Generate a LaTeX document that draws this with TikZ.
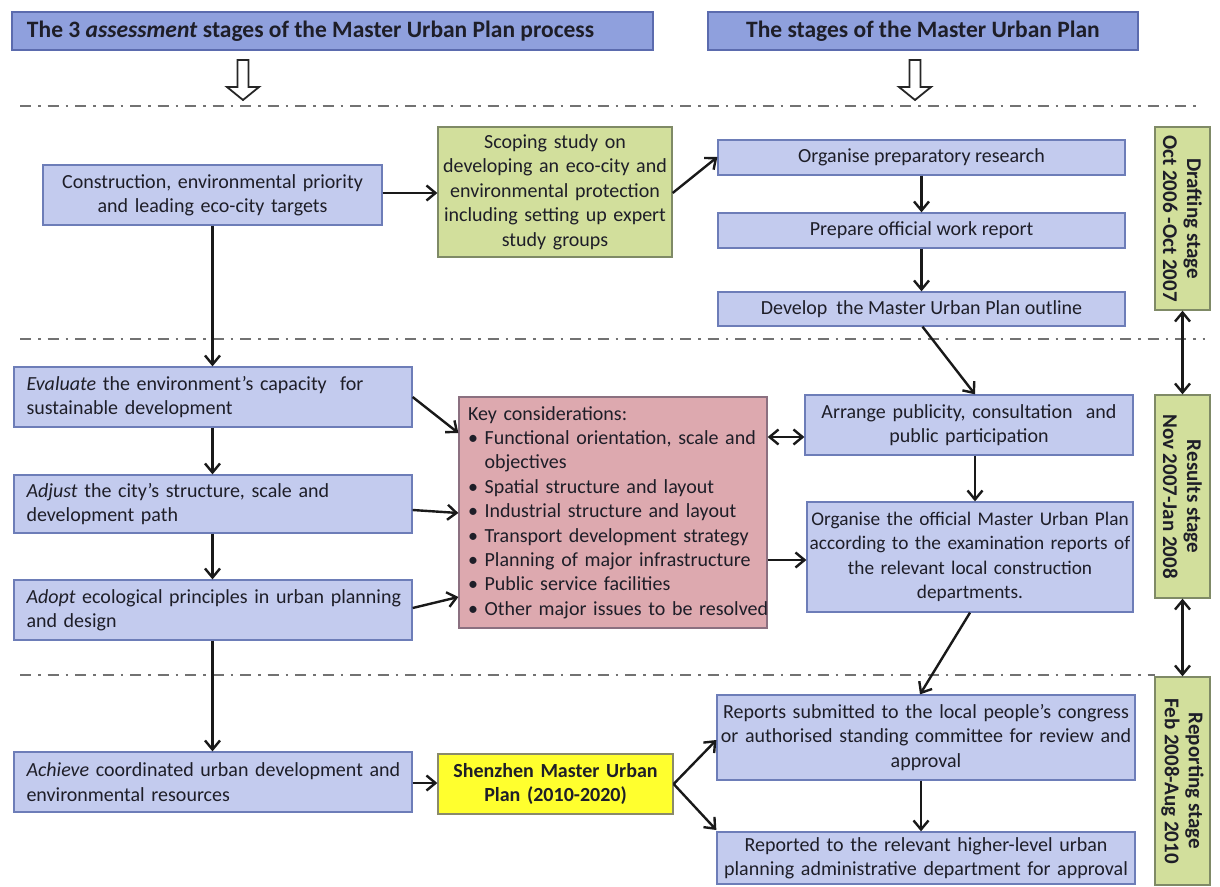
\documentclass[tikz,border=0pt]{standalone}
\usepackage{fontspec}
\setmainfont{Carlito}
\usetikzlibrary{arrows.meta,calc}

\definecolor{hdrfill}{HTML}{8FA0DD}
\definecolor{hdrline}{HTML}{5B6BAE}
\definecolor{boxfill}{HTML}{C3CBEE}
\definecolor{boxline}{HTML}{6D7DB8}
\definecolor{greenfill}{HTML}{D2DF9C}
\definecolor{greenline}{HTML}{7F8A66}
\definecolor{keyfill}{HTML}{DDA9AF}
\definecolor{keyline}{HTML}{8B7080}
\definecolor{shzfill}{HTML}{FFFF2E}
\definecolor{shzline}{HTML}{8A8A6A}
\definecolor{txt}{HTML}{1E1E28}
\definecolor{sepline}{HTML}{727272}

\newcommand\bodyfont{\fontsize{20}{24.4}\selectfont}
\newcommand\jline[1]{\makebox[373pt][s]{#1}}

\begin{document}
\begin{tikzpicture}[x=1pt,y=-1pt,
  base/.style={draw, line width=1.3pt, inner sep=0pt, text=txt, font=\bodyfont},
  bluebox/.style={base, draw=boxline, fill=boxfill},
  hdrbox/.style={base, draw=hdrline, fill=hdrfill, font=\fontsize{23.5}{28}\selectfont\bfseries},
  greenbox/.style={base, draw=greenline, fill=greenfill},
  stagebox/.style={base, draw=greenline, fill=greenfill, rotate=-90, align=center,
    font=\fontsize{21}{24}\selectfont\bfseries},
  keybox/.style={base, draw=keyline, fill=keyfill},
  shzbox/.style={base, draw=shzline, fill=shzfill, font=\fontsize{20}{24.4}\selectfont\bfseries},
  justbox/.style={bluebox, minimum width=398pt, text width=373pt, align=left},
  flow/.style={line width=2.4pt, draw=black!90, -{Straight Barb[length=9pt,width=15pt]}},
  both/.style={line width=2.4pt, draw=black!90, {Straight Barb[length=9pt,width=15pt]}-{Straight Barb[length=9pt,width=15pt]}},
  sep/.style={draw=sepline, line width=2.6pt, dash pattern=on 11pt off 7pt on 2.5pt off 7pt},
  hollow/.style={draw=black!85, line width=1.8pt, fill=white, line join=miter}
]
\useasboundingbox[fill=white] (0,0) rectangle (1220,886);

% column headings
\node[hdrbox, minimum width=641pt, minimum height=38pt, text width=611pt, inner xsep=15pt, align=flush left] (hdrA) at (332.5,31)
  {The 3 \textit{assessment} stages of the Master Urban Plan process};
\node[hdrbox, minimum width=430pt, minimum height=38pt] (hdrB) at (923,31)
  {The stages of the Master Urban Plan};

% hollow pointers under the headings
\draw[hollow] (237.5,60) -- (248.5,60) -- (248.5,87) -- (259,87) -- (243,100) -- (227,87) -- (237.5,87) -- cycle;
\draw[hollow] (909.5,60) -- (920.5,60) -- (920.5,87) -- (931,87) -- (915,100) -- (899,87) -- (909.5,87) -- cycle;

% stage separators
\draw[sep] (20,106) -- (1200,106);
\draw[sep] (20,339) -- (1205,339);
\draw[sep] (20,675) -- (1155,675);

% drafting stage
\node[bluebox, minimum width=339pt, minimum height=60pt, text width=330pt, align=center] (constr) at (212.5,195)
  {Construction, environmental priority\\and leading eco-city targets};
\node[greenbox, minimum width=234pt, minimum height=130pt, text width=230pt, align=center] (scope) at (555,192)
  {Scoping study on\\developing an eco-city and\\environmental protection\\including setting up expert\\study groups};
\node[bluebox, minimum width=407pt, minimum height=35pt] (orgR) at (921.5,157.5) {Organise preparatory research};
\node[bluebox, minimum width=407pt, minimum height=35pt] (prep) at (921.5,230.5) {Prepare official work report};
\node[bluebox, minimum width=407pt, minimum height=34pt] (devel) at (921.5,309) {Develop\ \ the Master Urban Plan outline};

% results stage
\node[justbox, minimum height=60pt] (evalB) at (213,397)
  {\jline{\textit{Evaluate} the environment’s capacity \ for}\\sustainable development};
\node[justbox, minimum height=58pt] (adjB) at (213,504)
  {\jline{\textit{Adjust} the city’s structure, scale and}\\development path};
\node[justbox, minimum height=60pt] (adoptB) at (213,610)
  {\jline{\textit{Adopt} ecological principles in urban planning}\\and design};
\node[keybox, minimum width=308pt, minimum height=231pt, text width=290pt, inner xsep=9pt, align=left] (keyB) at (613,512.5)
  {Key considerations:\\
   \mbox{• Functional orientation, scale and}\\
   \mbox{\phantom{•} objectives}\\
   \mbox{• Spatial structure and layout}\\
   \mbox{• Industrial structure and layout}\\
   \mbox{• Transport development strategy}\\
   \mbox{• Planning of major infrastructure}\\
   \mbox{• Public service facilities}\\
   \mbox{• Other major issues to be resolved}};
\node[bluebox, minimum width=328pt, minimum height=60pt, text width=324pt, align=center] (arrB) at (969,425)
  {Arrange publicity, consultation\ \ and\\public participation};
\node[bluebox, minimum width=326pt, minimum height=110pt, text width=326pt, align=center,
      font=\fontsize{19.3}{24.4}\selectfont] (orgOff) at (970,557)
  {\mbox{Organise the official Master Urban Plan}\\\mbox{according to the examination reports of}\\the relevant local construction\\departments.};

% reporting stage
\node[justbox, minimum height=60pt] (achB) at (213,782)
  {\jline{\textit{Achieve} coordinated urban development and}\\environmental resources};
\node[shzbox, minimum width=235pt, minimum height=60pt, text width=230pt, align=center] (shenz) at (555.5,784)
  {Shenzhen Master Urban\\Plan (2010-2020)};
\node[bluebox, minimum width=418pt, minimum height=85pt, text width=414pt, align=center] (repA) at (926,737.5)
  {Reports submitted to the local people’s congress\\or authorised standing committee for review and\\approval};
\node[bluebox, minimum width=418pt, minimum height=52pt, text width=414pt, align=center] (repB) at (926,858)
  {Reported to the relevant higher-level urban\\planning administrative department for approval};

% stage time spans
\node[stagebox, minimum width=183pt, minimum height=55pt] (draft) at (1182.5,218.5)
  {Drafting stage\\Oct 2006 -Oct 2007};
\node[stagebox, minimum width=203pt, minimum height=55pt] (results) at (1182.5,496.5)
  {Results stage\\Nov 2007-Jan 2008};
\node[stagebox, minimum width=208pt, minimum height=55pt] (reporting) at (1182.5,781)
  {Reporting stage\\Feb 2008-Aug 2010};

% assessment flow
\draw[flow] (constr.south) -- (constr.south |- evalB.north);
\draw[flow] (constr.south |- evalB.south) -- (constr.south |- adjB.north);
\draw[flow] (constr.south |- adjB.south) -- (constr.south |- adoptB.north);
\draw[flow] (constr.south |- adoptB.south) -- (constr.south |- achB.north);
\draw[flow] (constr.east |- 0,193) -- (scope.west |- 0,193);
\draw[flow] (scope.east |- 0,193) -- (orgR.west |- 0,157);
\draw[flow] (evalB.east |- 0,397) -- (keyB.west |- 0,433);
\draw[flow] (adjB.east |- 0,510) -- (keyB.west |- 0,513);
\draw[flow] (adoptB.east |- 0,608) -- (keyB.west |- 0,597);
\draw[flow] (achB.east |- 0,783) -- (shenz.west |- 0,783);

% plan flow
\draw[flow] (orgR.south) -- (prep.north);
\draw[flow] (prep.south) -- (devel.north);
\draw[flow] ([xshift=1pt]devel.south) -- ([xshift=6pt]arrB.north);
\draw[both] (keyB.east |- 0,437) -- (arrB.west |- 0,437);
\draw[flow] ([xshift=6pt]arrB.south) -- ([xshift=5pt]orgOff.north);
\draw[flow] (keyB.east |- 0,560) -- (orgOff.west |- 0,560);
\draw[flow] (orgOff.south) -- ([xshift=-6pt]repA.north);
\draw[flow] ([xshift=-5pt]repA.south) -- ([xshift=-5pt]repB.north);
\draw[flow] (shenz.east) -- (repA.west |- 0,740);
\draw[flow] (shenz.east) -- (repB.west |- 0,830);

% links between stages
\draw[both] (draft.east) -- (results.west);
\draw[both] (results.east) -- (reporting.west);
\end{tikzpicture}
\end{document}
